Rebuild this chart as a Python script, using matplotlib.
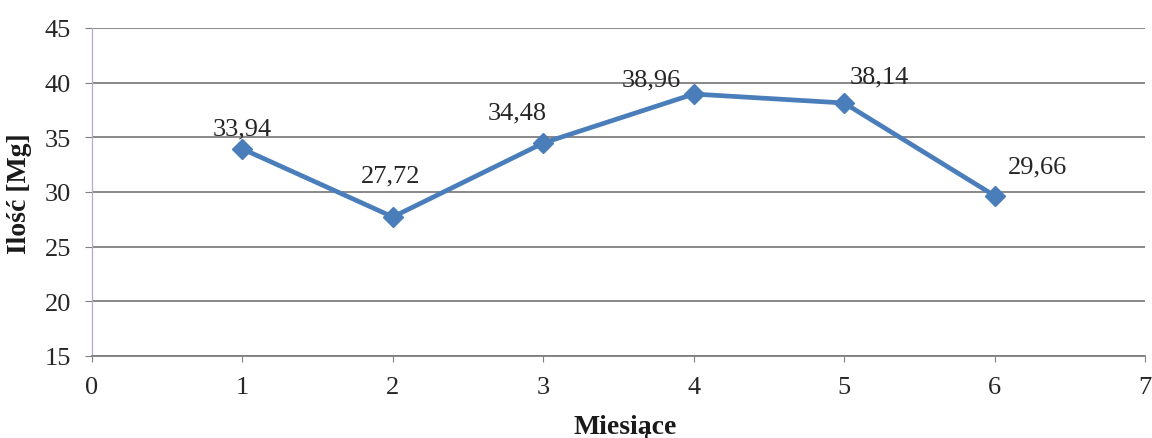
import matplotlib
matplotlib.use("Agg")
import matplotlib.pyplot as plt

months = [1, 2, 3, 4, 5, 6]
values = [33.94, 27.72, 34.48, 38.96, 38.14, 29.66]
labels = ["33,94", "27,72", "34,48", "38,96", "38,14", "29,66"]
yticks = [15, 20, 25, 30, 35, 40, 45]
xticks = [0, 1, 2, 3, 4, 5, 6, 7]

plt.rcParams['font.family'] = ['Liberation Serif', 'DejaVu Serif']

fig = plt.figure(figsize=(11.52, 4.39), dpi=100)
ax = fig.add_axes([92/1152, 1 - 357/439, (1145-92)/1152, (357-29)/439])

ax.set_xlim(0, 7)
ax.set_ylim(15, 45)
ax.set_yticks(yticks)
ax.set_xticks(xticks)
ax.grid(axis='y', color='#7f7f7f', linewidth=1.3)
ax.set_axisbelow(True)

for s in ['top', 'right']:
    ax.spines[s].set_visible(False)
ax.spines['left'].set_color('#b9a6c8')
ax.spines['left'].set_linewidth(0.9)
ax.spines['bottom'].set_color('#7f7f7f')
ax.spines['bottom'].set_linewidth(1.3)

ax.tick_params(axis='y', length=5, color='#7f7f7f', labelsize=19, pad=10, labelcolor='#262626')
ax.tick_params(axis='x', direction='out', length=4.5, color='#7f7f7f', labelsize=19, pad=10, labelcolor='#262626')

ax.plot(months, values, color='#4a7ebb', linewidth=3.4, marker='D', markersize=10,
        markerfacecolor='#4a7ebb', markeredgecolor='#4a7ebb', zorder=3)

offsets = [(0, 20), (-2, 41), (-26, 31), (-42, 15), (35, 27), (43, 29)]
for x, y, t, off in zip(months, values, labels, offsets):
    ax.annotate(t, (x, y), xytext=off, textcoords='offset pixels',
                ha='center', va='center', fontsize=19, color='#262626')

fig.text(20/1152, 1 - 194/439, "Ilość [Mg]", rotation=90, ha='center', va='center',
         fontsize=20, fontweight='bold', color='#1a1a1a')
fig.text(625/1152, 1 - 428/439, "Miesiące", ha='center', va='center',
         fontsize=20, fontweight='bold', color='#1a1a1a')

fig.savefig("out.png", dpi=100)
